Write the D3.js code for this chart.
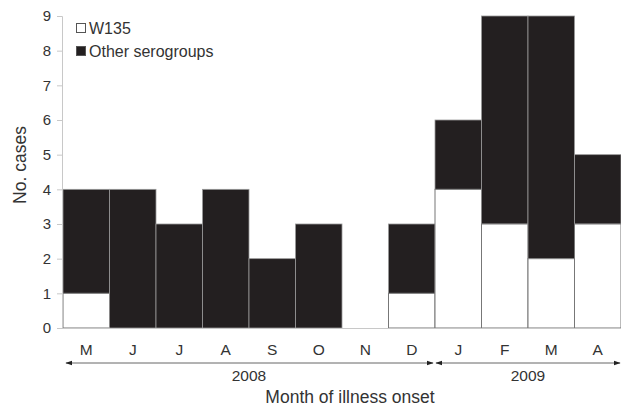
<!DOCTYPE html>
<html><head><meta charset="utf-8">
<script src="https://cdn.jsdelivr.net/npm/d3@7"></script>
<style>body{margin:0;background:#fff;} text{font-family:"Liberation Sans",Arial,sans-serif;}</style>
</head><body><svg id="c" width="621" height="408"></svg>
<script>
const months = ["M","J","J","A","S","O","N","D","J","F","M","A"];
const w135 = [1,0,0,0,0,0,0,1,4,3,2,3];
const other = [3,4,3,4,2,3,0,2,2,6,7,2];
const yTicks = [0,1,2,3,4,5,6,7,8,9];
const years = [{label:"2008", from:0, to:8}, {label:"2009", from:8, to:12}];

const svg = d3.select("#c");
const x0 = 63, x1 = 621, yTop = 16, yBot = 328;
const x = d3.scaleBand().domain(d3.range(months.length)).range([x0, x1]).padding(0);
const y = d3.scaleLinear().domain([0,9]).range([yBot, yTop]);
const txt = "#333";

// bars
const g = svg.append("g");
months.forEach((m,i)=>{
  g.append("rect").attr("x", x(i)).attr("y", y(w135[i]+other[i])).attr("width", x.bandwidth())
   .attr("height", y(w135[i]) - y(w135[i]+other[i])).attr("fill", "#231f20").attr("stroke", other[i]>0?"#999":"none").attr("stroke-width", 0.8);
  if (w135[i] > 0)
    g.append("rect").attr("x", x(i)).attr("y", y(w135[i])).attr("width", x.bandwidth())
     .attr("height", y(0)-y(w135[i])).attr("fill", "#fff").attr("stroke", "#777").attr("stroke-width", 1);
});

// y axis
const ya = svg.append("g").attr("transform", `translate(${x0-1},0)`)
  .call(d3.axisLeft(y).tickValues(yTicks).tickSize(5).tickPadding(6).tickFormat(d3.format("d")));
ya.select(".domain").attr("stroke", "#c8c8c8");
ya.selectAll(".tick line").attr("stroke", "#c8c8c8");
ya.selectAll("text").attr("fill", txt).style("font-size", "15px").attr("font-family", "Liberation Sans, Arial, sans-serif");

// x baseline
svg.append("line").attr("x1", x0-1).attr("x2", x1).attr("y1", yBot+0.5).attr("y2", yBot+0.5).attr("stroke", "#c8c8c8");

// month labels
svg.selectAll(".ml").data(months).enter().append("text")
  .attr("x", (d,i)=>x(i)+x.bandwidth()/2).attr("y", 355).attr("text-anchor","middle")
  .attr("fill", txt).style("font-size","15.5px").text(d=>d);

// year arrows
const defs = svg.append("defs");
defs.append("marker").attr("id","ah").attr("viewBox","0 0 10 10").attr("refX",9).attr("refY",5)
  .attr("markerWidth",7).attr("markerHeight",7).attr("orient","auto-start-reverse")
  .append("path").attr("d","M0,1.5L10,5L0,8.5Z").attr("fill","#222");
const arrowY = 363;
years.forEach((yr,k)=>{
  const xa = k===0 ? 66 : x(yr.from) + 1;
  const xb = k===0 ? x(yr.to) - 2 : 620;
  svg.append("line").attr("x1", xa).attr("x2", xb).attr("y1", arrowY).attr("y2", arrowY)
    .attr("stroke","#666").attr("stroke-width",1)
    .attr("marker-start","url(#ah)").attr("marker-end","url(#ah)");
  svg.append("text").attr("x", (x(yr.from)+x(yr.to-1)+x.bandwidth())/2).attr("y", 381)
    .attr("text-anchor","middle").attr("fill",txt).style("font-size","15.5px").text(yr.label);
});

// axis titles
svg.append("text").attr("x", 350).attr("y", 403).attr("text-anchor","middle").attr("fill",txt)
  .style("font-size","17.5px").text("Month of illness onset");
svg.append("text").attr("transform","translate(26,165) rotate(-90)").attr("text-anchor","middle")
  .attr("fill",txt).style("font-size","17.5px").text("No. cases");

// legend
const leg = [{l:"W135", f:"#fff"}, {l:"Other serogroups", f:"#231f20"}];
leg.forEach((d,i)=>{
  const ly = 23 + i*23;
  svg.append("rect").attr("x",76.5).attr("y",ly+0.5).attr("width",9).attr("height",9)
    .attr("fill",d.f).attr("stroke","#555").attr("stroke-width",1);
  svg.append("text").attr("x",89).attr("y",ly+10.5).attr("fill",txt).style("font-size","16px").text(d.l);
});
</script></body></html>
